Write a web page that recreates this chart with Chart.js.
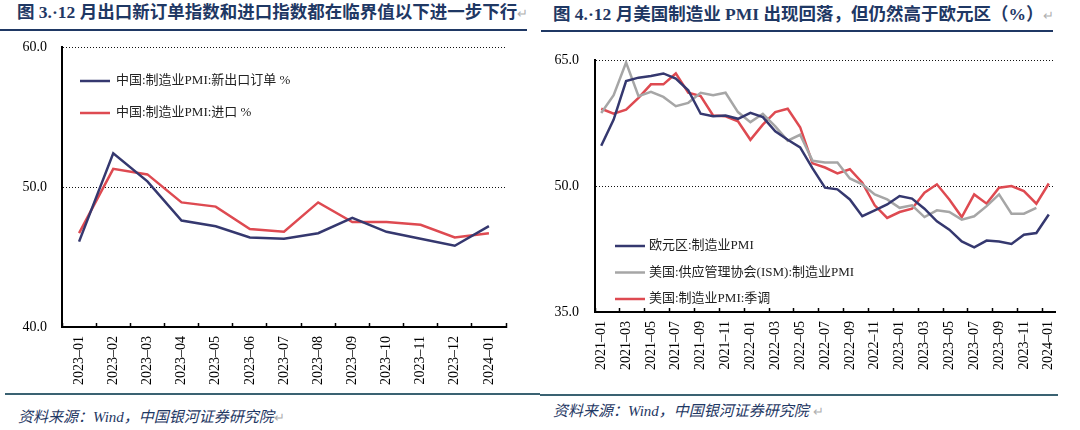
<!DOCTYPE html>
<html><head><meta charset="utf-8">
<script src="https://cdn.jsdelivr.net/npm/chart.js@4.4.1/dist/chart.umd.min.js"></script>
<style>
html,body{margin:0;padding:0;background:#fff;width:1080px;height:430px;overflow:hidden;position:relative;}
.t{position:absolute;font-family:"Liberation Serif","Noto Sans CJK SC",serif;font-weight:bold;font-size:17.5px;color:#1f3864;white-space:nowrap;line-height:1;}
.pm{color:#b0b0b0;font-weight:normal;font-size:13px;}
.hl{position:absolute;height:2px;background:#1f3864;}
.bl{position:absolute;height:1.5px;background:#3a6272;}
.src{position:absolute;font-family:"Liberation Serif","Noto Sans CJK SC",serif;font-style:italic;font-size:15px;color:#1f3864;white-space:nowrap;line-height:1;}
canvas{position:absolute;}
</style></head><body>
<div class="t" style="left:17px;top:4px">图 3.·12 月出口新订单指数和进口指数都在临界值以下进一步下行<span class="pm">↵</span></div>
<div class="hl" style="left:0;top:29px;width:527px"></div>
<div class="t" style="left:553px;top:6px">图 4.·12 月美国制造业 PMI 出现回落，但仍然高于欧元区（%）<span class="pm">↵</span></div>
<div class="hl" style="left:541px;top:30px;width:512px"></div>
<canvas id="c1" width="540" height="355" style="left:0;top:35px"></canvas>
<canvas id="c2" width="540" height="355" style="left:540px;top:35px"></canvas>
<div class="bl" style="left:5px;top:393px;width:535px"></div>
<div class="bl" style="left:540px;top:394px;width:518px"></div>
<div class="src" style="left:18px;top:410px">资料来源：Wind，中国银河证券研究院<span class="pm" style="font-style:normal">↵</span></div>
<div class="src" style="left:553px;top:404px">资料来源：Wind，中国银河证券研究院 <span class="pm" style="font-style:normal">↵</span></div>
<script>
// ---- Left chart data ----
const monthsCN = ["2023-01","2023-02","2023-03","2023-04","2023-05","2023-06","2023-07","2023-08","2023-09","2023-10","2023-11","2023-12","2024-01"];
const newExportOrders = [46.1,52.4,50.4,47.6,47.2,46.4,46.3,46.7,47.8,46.8,46.3,45.8,47.2];
const importsIdx = [46.7,51.3,50.9,48.9,48.6,47.0,46.8,48.9,47.5,47.5,47.3,46.4,46.7];
const leftNames = ["中国:制造业PMI:新出口订单 %","中国:制造业PMI:进口 %"];
const leftYTicks = [40,50,60];

// ---- Right chart data ----
const monthsGL = ["2021-01","2021-02","2021-03","2021-04","2021-05","2021-06","2021-07","2021-08","2021-09","2021-10","2021-11","2021-12",
"2022-01","2022-02","2022-03","2022-04","2022-05","2022-06","2022-07","2022-08","2022-09","2022-10","2022-11","2022-12",
"2023-01","2023-02","2023-03","2023-04","2023-05","2023-06","2023-07","2023-08","2023-09","2023-10","2023-11","2023-12","2024-01"];
const euroPMI = [54.8,57.9,62.5,62.9,63.1,63.4,62.8,61.4,58.6,58.3,58.4,58.0,
58.7,58.2,56.5,55.5,54.6,52.1,49.8,49.6,48.4,46.4,47.1,47.8,
48.8,48.5,47.3,45.8,44.8,43.4,42.7,43.5,43.4,43.1,44.2,44.4,46.6];
const ismPMI = [58.7,60.8,64.7,60.7,61.2,60.6,59.5,59.9,61.1,60.8,61.1,58.8,
57.6,58.6,57.1,55.4,56.1,53.0,52.8,52.8,50.9,50.2,49.0,48.4,
47.4,47.7,46.3,47.1,46.9,46.0,46.4,47.6,49.0,46.7,46.7,47.4,null];
const usPMI = [59.2,58.6,59.1,60.5,62.1,62.1,63.4,61.1,60.7,58.4,58.3,57.7,
55.5,57.3,58.8,59.2,57.0,52.7,52.2,51.5,52.0,50.4,47.7,46.2,
46.9,47.3,49.2,50.2,48.4,46.3,49.0,47.9,49.8,50.0,49.4,47.9,50.3];
const rightNames = ["欧元区:制造业PMI","美国:供应管理协会(ISM):制造业PMI","美国:制造业PMI:季调"];
const rightYTicks = [35,50,65];

const NAVY = '#35386f', RED = '#de4a51', GRAY = '#a6a6a6';
const SERIF = '"Liberation Serif","Noto Sans CJK SC",serif';

const insideLegend = {
  id: 'insideLegend',
  afterDatasetsDraw(chart, args, o) {
    const {ctx, chartArea: a} = chart;
    const base = o.anchor === 'bottom' ? a.bottom : a.top;
    chart.data.datasets.forEach((ds, i) => {
      const y = base + o.y0 + i * o.dy;
      ctx.save();
      ctx.strokeStyle = ds.borderColor;
      ctx.lineWidth = 2.5;
      ctx.beginPath();
      ctx.moveTo(a.left + o.x0, y);
      ctx.lineTo(a.left + o.x1, y);
      ctx.stroke();
      ctx.fillStyle = '#222';
      ctx.font = '13px ' + SERIF;
      ctx.textBaseline = 'middle';
      ctx.fillText(ds.label, a.left + o.tx, y);
      ctx.restore();
    });
  }
};

function lineDs(label, data, color) {
  return {label, data, borderColor: color, backgroundColor: color, borderWidth: 2.5,
    pointRadius: 0, tension: 0, fill: false, spanGaps: false};
}

function zeroPad(s) { s.paddingTop = 0; s.paddingBottom = 0; s.paddingLeft = 0; s.paddingRight = 0; }

function makeChart(id, labels, datasets, yTicks, cfg) {
  const yMin = yTicks[0], yMax = yTicks[yTicks.length - 1];
  return new Chart(document.getElementById(id), {
    type: 'line',
    data: {labels, datasets},
    plugins: [insideLegend],
    options: {
      responsive: false, animation: false, devicePixelRatio: 1,
      layout: {padding: cfg.padding},
      plugins: {legend: {display: false}, tooltip: {enabled: false}, insideLegend: cfg.legend},
      scales: {
        x: {
          type: 'category', offset: true,
          grid: {drawOnChartArea: false, drawTicks: true, tickLength: -4, offset: true,
            color: '#000', tickWidth: 1.5,
            tickColor: cfg.tickEvery === 2 ? (c => (c.index !== undefined && c.index % 2 === 0) ? '#000' : 'rgba(0,0,0,0)') : '#000'},
          border: {display: true, color: '#000', width: 2},
          ticks: {autoSkip: false, minRotation: 90, maxRotation: 90, padding: 13,
            color: '#000', font: {family: SERIF, size: 14},
            callback: function(v, i) {
              if (cfg.tickEvery === 2 && i % 2 !== 0) return '';
              return this.getLabelForValue(v).replace('-', '–');
            }},
          afterFit: s => { s.height = cfg.xHeight; zeroPad(s); }
        },
        y: {
          min: yMin, max: yMax,
          afterBuildTicks: s => { s.ticks = yTicks.map(v => ({value: v})); },
          grid: {drawTicks: false, lineWidth: 1,
            color: c => (c.tick && c.tick.value === yMin) ? 'rgba(0,0,0,0)' : '#111'},
          border: {display: true, color: '#000', width: 2, dash: [1, 2]},
          ticks: {padding: cfg.yPad, color: '#000', font: {family: SERIF, size: 14},
            callback: v => Number(v).toFixed(1)},
          afterFit: s => { s.width = cfg.yWidth; zeroPad(s); }
        }
      }
    }
  });
}

makeChart('c1', monthsCN, [
  lineDs(leftNames[0], newExportOrders, NAVY),
  lineDs(leftNames[1], importsIdx, RED)
], leftYTicks, {
  padding: {left: 0, top: 12, right: 34, bottom: 0},
  xHeight: 63, yWidth: 62, yPad: 15, tickEvery: 1,
  legend: {anchor: 'top', y0: 34, dy: 32, x0: 18, x1: 48, tx: 54}
});

makeChart('c2', monthsGL, [
  lineDs(rightNames[0], euroPMI, NAVY),
  lineDs(rightNames[1], ismPMI, GRAY),
  lineDs(rightNames[2], usPMI, RED)
], rightYTicks, {
  padding: {left: 0, top: 25, right: 25, bottom: 0},
  xHeight: 78, yWidth: 55, yPad: 16, tickEvery: 2,
  legend: {anchor: 'bottom', y0: -66, dy: 26.5, x0: 20, x1: 50, tx: 54}
});
</script>
</body></html>
